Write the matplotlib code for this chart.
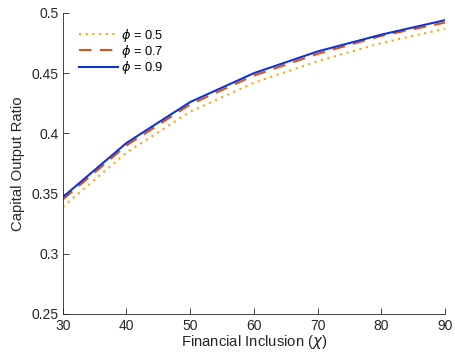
import matplotlib
matplotlib.use('Agg')
import matplotlib.pyplot as plt

plt.rcParams['font.family'] = ['Liberation Sans', 'DejaVu Sans']
plt.rcParams['mathtext.fontset'] = 'dejavusans'

# financial inclusion levels
chi = [30, 40, 50, 60, 70, 80, 90]

# capital output ratio for each phi
k_05 = [0.339, 0.384, 0.418, 0.442, 0.460, 0.475, 0.487]
k_07 = [0.345, 0.390, 0.424, 0.448, 0.466, 0.481, 0.492]
k_09 = [0.347, 0.392, 0.426, 0.450, 0.468, 0.482, 0.494]

fig = plt.figure(figsize=(4.55, 3.6), dpi=100)
ax = fig.add_axes([0.138, 0.128, 0.840, 0.836])

ax.plot(chi, k_05, linestyle=(0, (1, 2.2)), color='#FFA500', linewidth=1.5, label=r'$\phi$ = 0.5')
ax.plot(chi, k_07, linestyle=(0, (6, 4)), color='#D95319', linewidth=1.5, label=r'$\phi$ = 0.7')
ax.plot(chi, k_09, linestyle='-', color='#1133D6', linewidth=1.5, label=r'$\phi$ = 0.9')

ax.set_xlim(30, 90)
ax.set_ylim(0.25, 0.5)
ax.set_xticks([30, 40, 50, 60, 70, 80, 90])
ax.set_yticks([0.25, 0.3, 0.35, 0.4, 0.45, 0.5])
ax.set_yticklabels(['0.25', '0.3', '0.35', '0.4', '0.45', '0.5'])

for s in ['top', 'right']:
    ax.spines[s].set_visible(False)
for s in ['left', 'bottom']:
    ax.spines[s].set_color('#262626')
    ax.spines[s].set_linewidth(0.6)
ax.tick_params(direction='in', length=4, width=0.6, colors='#262626', labelsize=10)
ax.tick_params(axis='x', pad=4)
ax.tick_params(axis='y', pad=3)

ax.set_xlabel(r'Financial Inclusion ($\chi$)', fontsize=10.7, color='#262626', labelpad=0)
ax.set_ylabel('Capital Output Ratio', fontsize=10.7, color='#262626', labelpad=5)

ax.legend(loc='upper left', frameon=False, fontsize=9.3, handlelength=3.0,
          handletextpad=0.25, borderaxespad=0.3, labelspacing=-0.05, bbox_to_anchor=(0.02, 0.985))

plt.savefig('out.png', dpi=100)
